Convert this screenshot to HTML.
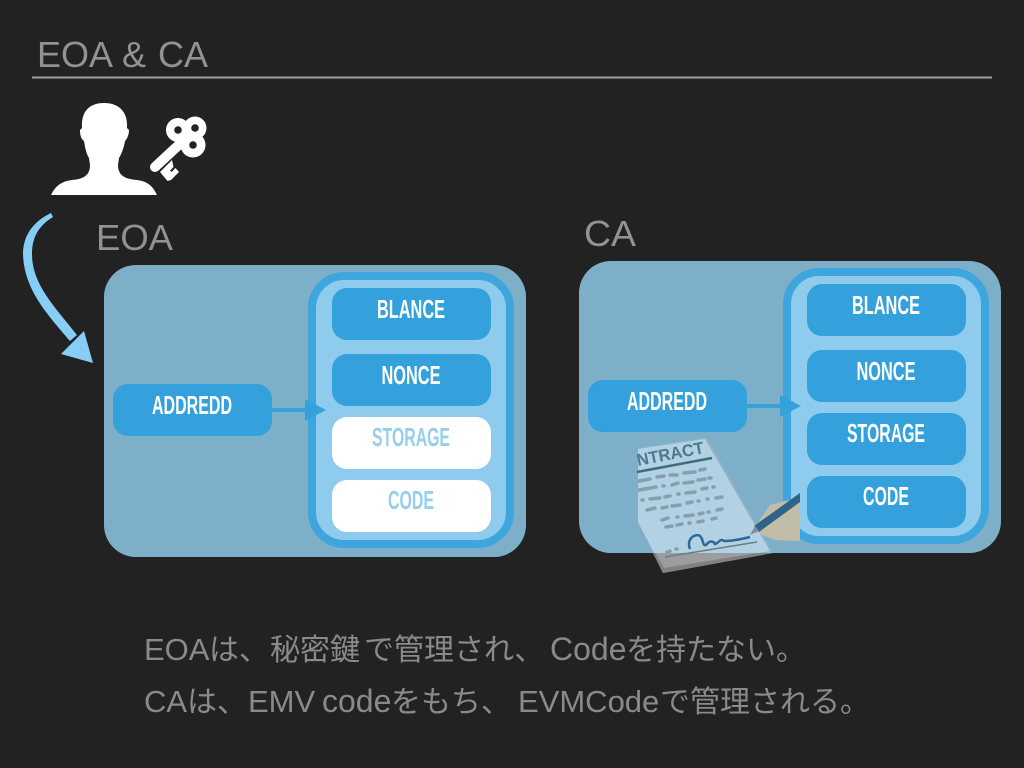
<!DOCTYPE html>
<html><head><meta charset="utf-8"><style>
html,body{margin:0;padding:0;background:#222}
svg{display:block}
text{font-family:"Liberation Sans","Noto Sans CJK JP",sans-serif}
.c{font-weight:bold;font-size:26px;fill:#fff;text-anchor:middle}
.l{font-weight:bold;font-size:26px;fill:#96cfee;text-anchor:middle}
.t{font-size:36px;fill:#929292}
.j{font-size:30px;fill:#8a8a8a}
.a{font-size:31px}
.b{font-size:32px}
</style></head><body>
<svg width="1024" height="768" viewBox="0 0 1024 768" xmlns="http://www.w3.org/2000/svg">
<defs><clipPath id="below"><rect x="600" y="553" width="200" height="40"/></clipPath></defs>
<rect width="1024" height="768" fill="#222"/>
<text y="67" class="t"><tspan x="37">EOA</tspan><tspan x="122">&amp;</tspan><tspan x="158">CA</tspan></text>
<rect x="32" y="76.5" width="960" height="2" fill="#a0a0a0"/>

<!-- person -->
<path d="M51 195C55 186 62 181 72 180C84 179 90 175 90 165L89 158C86 153 85 147 84 141C81 139 80 135 80 130L82 128C81 113 88 103 104 103C120 103 128 113 127 128L129 130C129 135 127 139 125 141C124 147 122 153 119 158L118 165C118 175 124 179 137 180C147 181 153 186 157 195Z" fill="#fff"/>
<!-- key -->
<g fill="#fff">
<circle cx="178" cy="130" r="12"/><circle cx="195" cy="128" r="11.5"/><circle cx="193" cy="145" r="12.5"/>
<circle cx="186" cy="136" r="10"/>
<path d="M160 172L167.5 181L171 180L179 172L175.5 168L171.5 172L170 170.5L173.5 167L172 160L166 166Z"/>
</g>
<path d="M183 141L155 167" fill="none" stroke="#fff" stroke-width="10" stroke-linecap="round"/>
<g fill="#222"><circle cx="178" cy="130" r="3.8"/><circle cx="195" cy="128" r="3.8"/><circle cx="193" cy="145" r="3.8"/></g>

<!-- curved arrow -->
<path d="M51 213C34 221 23 235 23 254C24 290 48 315 70 341L77 335C56 308 32 285 32 254C32 238 38 226 53 217Z" fill="#86cef5"/>
<path d="M84 331L61 354L93 363Z" fill="#86cef5"/>

<text x="96" y="250" class="t" textLength="77" lengthAdjust="spacingAndGlyphs">EOA</text>
<text x="584" y="246" class="t" textLength="52" lengthAdjust="spacingAndGlyphs">CA</text>

<!-- EOA card -->
<rect x="104" y="265" width="422" height="292" rx="32" fill="#7eafc8"/>
<rect x="312" y="276" width="198" height="268" rx="32" fill="#8ecbec" stroke="#3fa5dd" stroke-width="8"/>
<rect x="113" y="384" width="159" height="52" rx="15" fill="#34a1dc"/>
<text x="192" y="414" class="c" textLength="80" lengthAdjust="spacingAndGlyphs">ADDREDD</text>
<rect x="272" y="408" width="36" height="4" fill="#34a1dc"/>
<path d="M305 399L326 410L305 421Z" fill="#34a1dc"/>
<rect x="332" y="288" width="159" height="52" rx="15" fill="#34a1dc"/>
<text x="411" y="318" class="c" textLength="68" lengthAdjust="spacingAndGlyphs">BLANCE</text>
<rect x="332" y="354" width="159" height="52" rx="15" fill="#34a1dc"/>
<text x="411" y="384" class="c" textLength="59" lengthAdjust="spacingAndGlyphs">NONCE</text>
<rect x="332" y="417" width="159" height="52" rx="15" fill="#fff"/>
<text x="411" y="446" class="l" textLength="78" lengthAdjust="spacingAndGlyphs">STORAGE</text>
<rect x="332" y="480" width="159" height="52" rx="15" fill="#fff"/>
<text x="411" y="509" class="l" textLength="46" lengthAdjust="spacingAndGlyphs">CODE</text>

<!-- CA card -->
<rect x="579" y="261" width="422" height="292" rx="32" fill="#7eafc8"/>
<rect x="787" y="272" width="198" height="268" rx="32" fill="#8ecbec" stroke="#3fa5dd" stroke-width="8"/>
<rect x="588" y="380" width="159" height="52" rx="15" fill="#34a1dc"/>
<text x="667" y="410" class="c" textLength="80" lengthAdjust="spacingAndGlyphs">ADDREDD</text>
<rect x="747" y="404" width="36" height="4" fill="#34a1dc"/>
<path d="M780 395L801 406L780 417Z" fill="#34a1dc"/>
<rect x="807" y="284" width="159" height="52" rx="15" fill="#34a1dc"/>
<text x="886" y="314" class="c" textLength="68" lengthAdjust="spacingAndGlyphs">BLANCE</text>
<rect x="807" y="350" width="159" height="52" rx="15" fill="#34a1dc"/>
<text x="886" y="380" class="c" textLength="59" lengthAdjust="spacingAndGlyphs">NONCE</text>
<rect x="807" y="413" width="159" height="52" rx="15" fill="#34a1dc"/>
<text x="886" y="442" class="c" textLength="78" lengthAdjust="spacingAndGlyphs">STORAGE</text>
<rect x="807" y="476" width="159" height="52" rx="15" fill="#34a1dc"/>
<text x="886" y="505" class="c" textLength="46" lengthAdjust="spacingAndGlyphs">CODE</text>

<!-- contract -->
<path d="M638 523L663 573L773 553L707 437L638 448Z" fill="#8fb2c6"/>
<path d="M638 449L705 439L770 551L663 570L638 522Z" fill="#b2d2e3"/>
<g clip-path="url(#below)"><path d="M638 523L663 573L773 553L707 437L638 448Z" fill="#7f8182"/><path d="M640 526L664 568L770 551L706 437L640 448Z" fill="#9b9d9e"/></g>
<text transform="translate(638 466) rotate(-11)" font-size="17" font-weight="bold" fill="#4d7a91" textLength="68" lengthAdjust="spacingAndGlyphs">NTRACT</text>
<path d="M637 472L712 458" stroke="#3f6c80" stroke-width="2.5" fill="none"/>
<g stroke="#869fae" stroke-width="3.5" stroke-linecap="round" fill="none">
<path d="M639 481L650 479M657 477L664 476M670 475L677 475M684 473L695 472M700 470L705 469"/>
<path d="M639 490L656 487M663 486L664 486M672 485L678 483M684 483L693 482M698 480L705 479M709 478L711 478"/>
<path d="M642 500L643 500M650 499L660 498M665 497L670 496M678 494L679 494M686 493L695 492M702 489L707 488M713 487L714 487"/>
<path d="M647 510L655 508M662 508L667 507M672 506L680 505M687 503L692 502M698 501L699 501M707 499L708 499M716 498L722 497"/>
<path d="M662 520L668 518M677 517L678 517M685 516L693 515M699 514L703 513M708 512L709 512M717 510L722 509"/>
<path d="M666 527L672 526M677 525L682 524M689 523L690 523M698 522L703 521M712 519L716 518"/>
<path d="M667 552L670 551M676 549L677 549"/>
</g>
<path d="M665 557L757 542" stroke="#6d7c83" stroke-width="1.5" fill="none"/>
<path d="M690 549C686 538 696 533 700 536C704 540 702 546 706 545C709 541 713 540 715 544C719 543 720 538 724 541C733 541 742 539 750 537" stroke="#2f6a96" stroke-width="2.5" fill="none"/>
<path d="M755 527L770 505L785 501L800 500V541L775 540L760 534Z" fill="#c2bda8"/>
<path d="M754 526L800 493V502L759 532Z" fill="#2f6487"/>
<path d="M750 535L755 526L759 531Z" fill="#7d8f99"/>

<text y="660" class="j"><tspan x="144" class="a">EOA</tspan><tspan x="209">は、</tspan><tspan x="270">秘密鍵</tspan><tspan x="364">で管理され、</tspan><tspan x="550" class="b">Code</tspan><tspan x="626">を持たない。</tspan></text>
<text y="712" class="j"><tspan x="144" class="a">CA</tspan><tspan x="187">は、</tspan><tspan x="248" class="a">EMV</tspan><tspan x="322" class="b">code</tspan><tspan x="391">をもち、</tspan><tspan x="518" class="a">EVMCode</tspan><tspan x="660">で管理される。</tspan></text>
</svg>
</body></html>
